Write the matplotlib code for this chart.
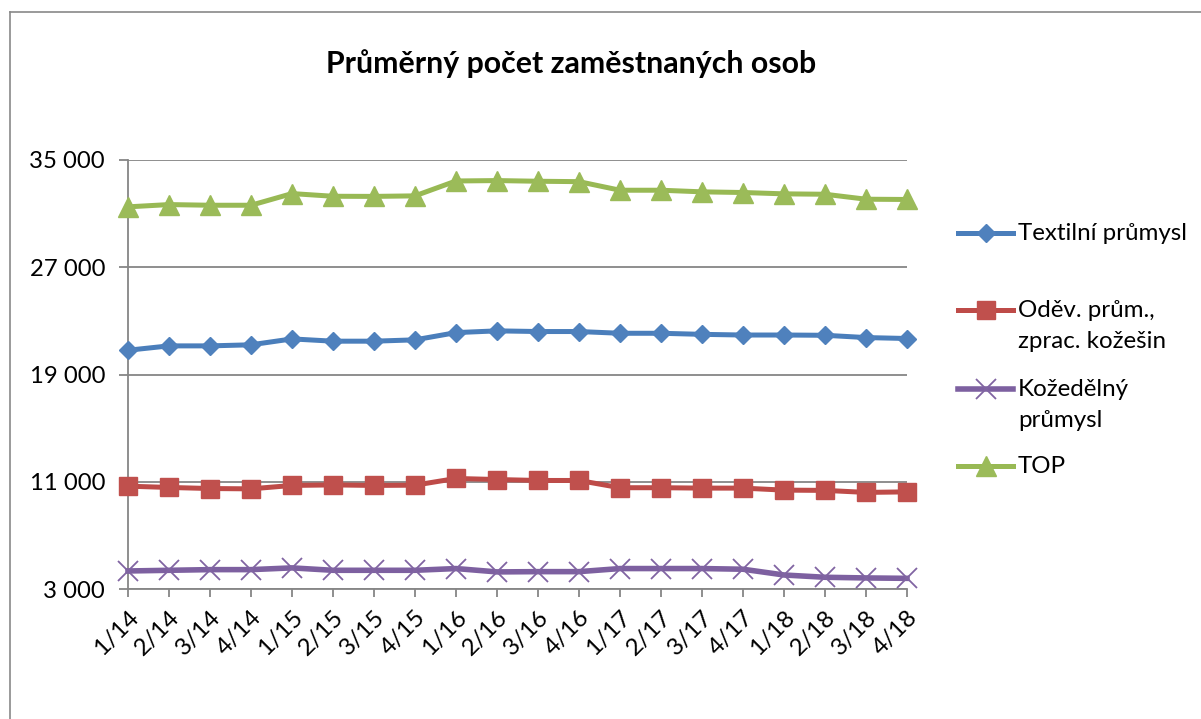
import matplotlib
matplotlib.use("Agg")
import matplotlib.pyplot as plt
from matplotlib.lines import Line2D

plt.rcParams['font.family'] = ['Lato', 'DejaVu Sans']

categories = ["1/14", "2/14", "3/14", "4/14", "1/15", "2/15", "3/15", "4/15",
              "1/16", "2/16", "3/16", "4/16", "1/17", "2/17", "3/17", "4/17",
              "1/18", "2/18", "3/18", "4/18"]

textil = [20810, 21135, 21135, 21215, 21655, 21485, 21485, 21585, 22125, 22255,
          22205, 22205, 22075, 22075, 21995, 21945, 21945, 21925, 21755, 21685]
odev = [10670, 10575, 10495, 10470, 10725, 10765, 10725, 10745, 11245, 11165,
        11095, 11095, 10555, 10555, 10525, 10525, 10375, 10355, 10205, 10245]
kozed = [4345, 4395, 4445, 4445, 4575, 4395, 4395, 4395, 4525, 4275,
         4295, 4295, 4525, 4525, 4525, 4475, 4045, 3875, 3825, 3795]
top = [31505, 31675, 31625, 31625, 32495, 32295, 32285, 32325, 33435, 33465,
       33415, 33385, 32745, 32745, 32625, 32575, 32475, 32445, 32075, 32055]

series_names = ["Textilní průmysl", "Oděv. prům.,\nzprac. kožešin", "Kožedělný\nprůmysl", "TOP"]
title = "Průměrný počet zaměstnaných osob"
yticks = [3000, 11000, 19000, 27000, 35000]
ytick_labels = ["3 000", "11 000", "19 000", "27 000", "35 000"]

W, H = 1201, 719
fig = plt.figure(figsize=(W / 100, H / 100), dpi=100)
ax = fig.add_axes([128 / W, 1 - 589 / H, (907 - 128) / W, (589 - 160) / H])

styles = [
    dict(color="#4A7EBB", marker="D", ms=9.5, mfc="#4F81BD", mec="#4F81BD"),
    dict(color="#BE4B48", marker="s", ms=13.5, mfc="#C0504D", mec="#C0504D"),
    dict(color="#7D60A0", marker="x", ms=14, mfc="#8064A2", mec="#8064A2", mew=1.3),
    dict(color="#98B954", marker="^", ms=14, mfc="#9BBB59", mec="#9BBB59"),
]
widths = [3.6, 3.6, 4.0, 3.6]
data = [textil, odev, kozed, top]
x = list(range(len(categories)))
for i, (vals, st, lw) in enumerate(zip(data, styles, widths)):
    ax.plot(x, vals, lw=lw, zorder=3 + i, clip_on=False, **st)

ax.set_xlim(0, len(categories) - 1)
ax.set_ylim(3000, 35000)
ax.set_yticks(yticks)
ax.set_yticklabels(ytick_labels)
ax.set_xticks(x)
ax.set_xticklabels(categories, rotation=45, ha="right", va="top", rotation_mode="anchor")
ax.yaxis.grid(True, color="#868686", lw=1.3, zorder=0)
ax.set_axisbelow(True)
for s in ["top", "right"]:
    ax.spines[s].set_visible(False)
for s in ["left", "bottom"]:
    ax.spines[s].set_color("#868686")
    ax.spines[s].set_linewidth(1.3)
ax.tick_params(axis="y", length=6.5, width=1.3, color="#868686", pad=10, labelsize=17.2)
ax.tick_params(axis="x", length=5.5, width=1.3, color="#868686", pad=7, labelsize=17.5)

fig.text(571 / W, 1 - 64 / H, title, ha="center", va="center", fontsize=21.8, fontweight="bold")

# legend drawn manually
leg_y = [233, 310, 389, 466]
line_gap = 31
for name, st, yc, lw in zip(series_names, styles, leg_y, widths):
    yf = 1 - yc / H
    fig.add_artist(Line2D([958 / W, 1013 / W], [yf, yf], lw=lw, color=st["color"],
                          transform=fig.transFigure))
    mst = {k: v for k, v in st.items() if k != "color"}
    fig.add_artist(Line2D([985.5 / W], [yf], lw=0, transform=fig.transFigure, **mst))
    for j, part in enumerate(name.split("\n")):
        fig.text(1018 / W, 1 - (yc + 7 + j * line_gap) / H, part, ha="left", va="baseline",
                 fontsize=17.4)

# outer border (left and top visible)
fig.add_artist(Line2D([10 / W, 10 / W], [0, 1 - 12 / H], color="#898989", lw=1.2,
                      transform=fig.transFigure))
fig.add_artist(Line2D([10 / W, 1], [1 - 12 / H, 1 - 12 / H], color="#898989", lw=1.2,
                      transform=fig.transFigure))

fig.savefig("out.png", dpi=100)
